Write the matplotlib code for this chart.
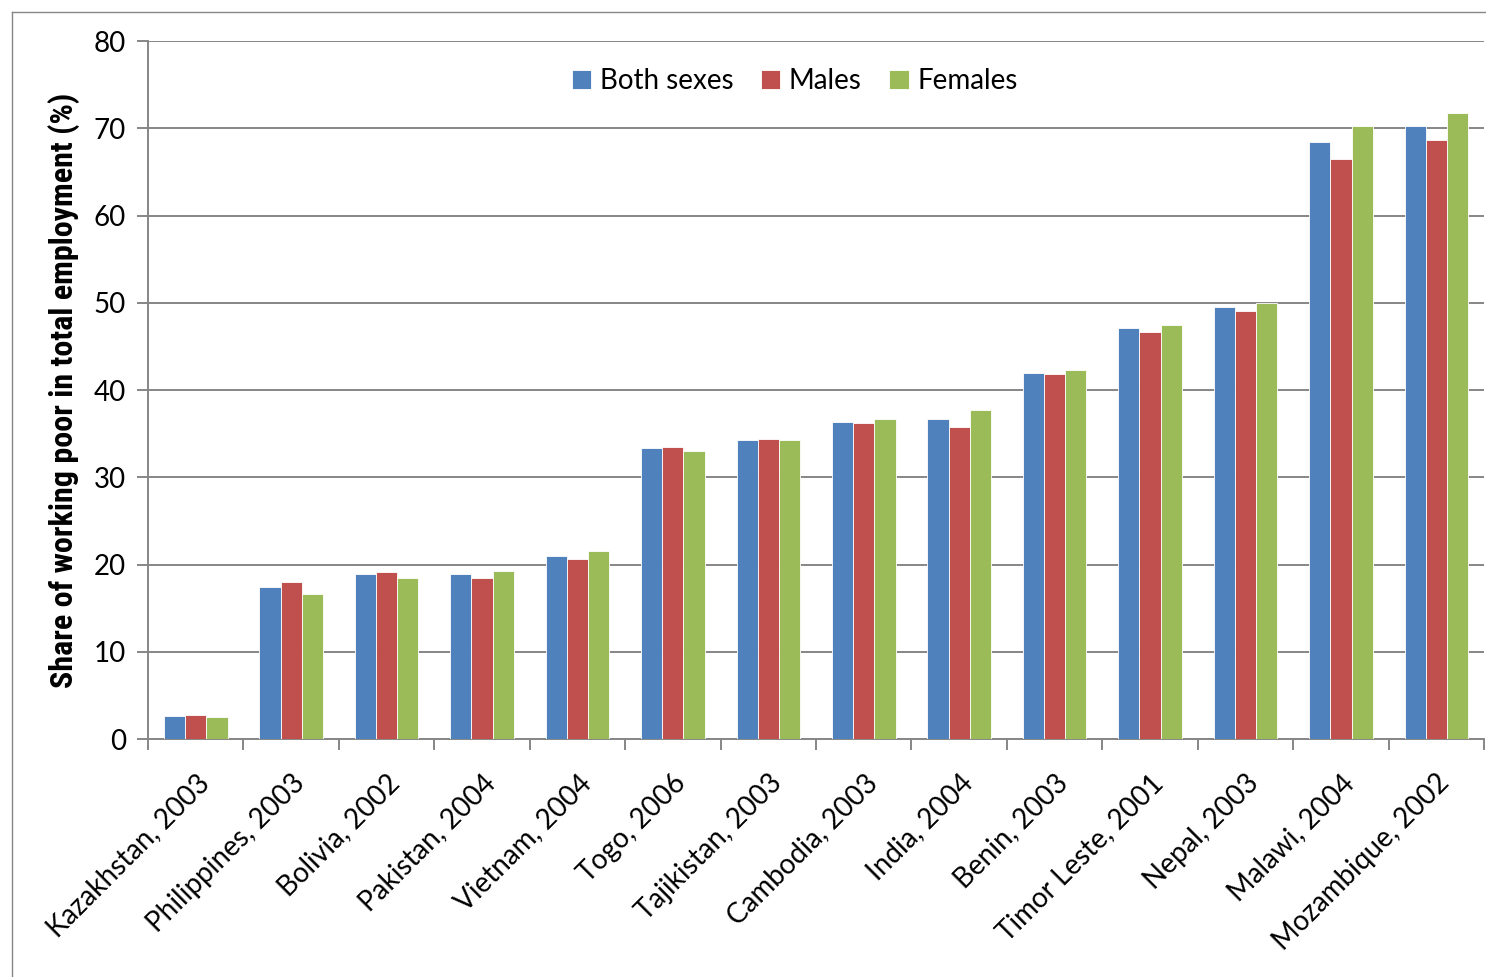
import numpy as np
import matplotlib
matplotlib.use("Agg")
from matplotlib import pyplot as plt
from matplotlib.lines import Line2D

countries = ["Kazakhstan, 2003", "Philippines, 2003", "Bolivia, 2002", "Pakistan, 2004",
             "Vietnam, 2004", "Togo, 2006", "Tajikistan, 2003", "Cambodia, 2003",
             "India, 2004", "Benin, 2003", "Timor Leste, 2001", "Nepal, 2003",
             "Malawi, 2004", "Mozambique, 2002"]
both_sexes = [2.6, 17.4, 18.9, 18.9, 21.0, 33.4, 34.3, 36.3, 36.7, 41.9, 47.1, 49.5, 68.4, 70.3]
males = [2.8, 18.0, 19.1, 18.4, 20.6, 33.5, 34.4, 36.2, 35.8, 41.8, 46.7, 49.0, 66.5, 68.6]
females = [2.5, 16.6, 18.5, 19.3, 21.5, 33.0, 34.3, 36.7, 37.7, 42.3, 47.5, 50.0, 70.3, 71.7]

series = [("Both sexes", both_sexes, "#4F81BD"),
          ("Males", males, "#C0504D"),
          ("Females", females, "#9BBB59")]

plt.rcParams["font.family"] = ["Lato", "DejaVu Sans"]
grey = "#868686"

fig = plt.figure(figsize=(14.86, 9.77), dpi=100)
ax = fig.add_axes([0.0996, 0.2436, 0.8991, 0.7144])

x = np.arange(len(countries))
width = 1 / 4.5
for i, (name, vals, color) in enumerate(series):
    ax.bar(x + (i - 1) * width, vals, width, color=color, label=name,
           edgecolor="white", linewidth=0.6, zorder=3)

ax.set_xlim(-0.5, len(countries) - 0.5)
ax.set_ylim(0, 80)
ax.set_yticks(range(0, 81, 10))
ax.grid(axis="y", color=grey, linewidth=1.4, zorder=0)
ax.set_axisbelow(True)

# category ticks sit on the boundaries between groups
ax.set_xticks(np.arange(-0.5, len(countries) + 0.5, 1))
ax.set_xticklabels([])
ax.set_xticks(x, minor=True)
ax.set_xticklabels(countries, minor=True, rotation=45, ha="right", va="top",
                   rotation_mode="anchor", fontsize=20)
ax.tick_params(axis="x", which="minor", length=0, pad=22)
ax.tick_params(axis="x", which="major", length=8, width=1.4, color=grey)
ax.tick_params(axis="y", length=8, width=1.4, color=grey, labelsize=20, pad=8)

for side in ["top", "right"]:
    ax.spines[side].set_visible(False)
for side in ["left", "bottom"]:
    ax.spines[side].set_color(grey)
    ax.spines[side].set_linewidth(1.4)

ax.set_ylabel("Share of working poor in total employment (%)", fontsize=23,
              fontweight="bold", family="Roboto Condensed", labelpad=10)

ax.legend(loc="upper center", bbox_to_anchor=(0.484, 0.997), ncol=3, frameon=False,
          fontsize=20, handlelength=0.7, handleheight=0.7, handletextpad=0.3,
          columnspacing=1.0)

# chart frame
fig.add_artist(Line2D([12 / 1486, 12 / 1486], [0, 1 - 12 / 977], transform=fig.transFigure,
                      color=grey, linewidth=1))
fig.add_artist(Line2D([12 / 1486, 1], [1 - 12 / 977, 1 - 12 / 977], transform=fig.transFigure,
                      color=grey, linewidth=1))

fig.savefig("out.png", dpi=100)
